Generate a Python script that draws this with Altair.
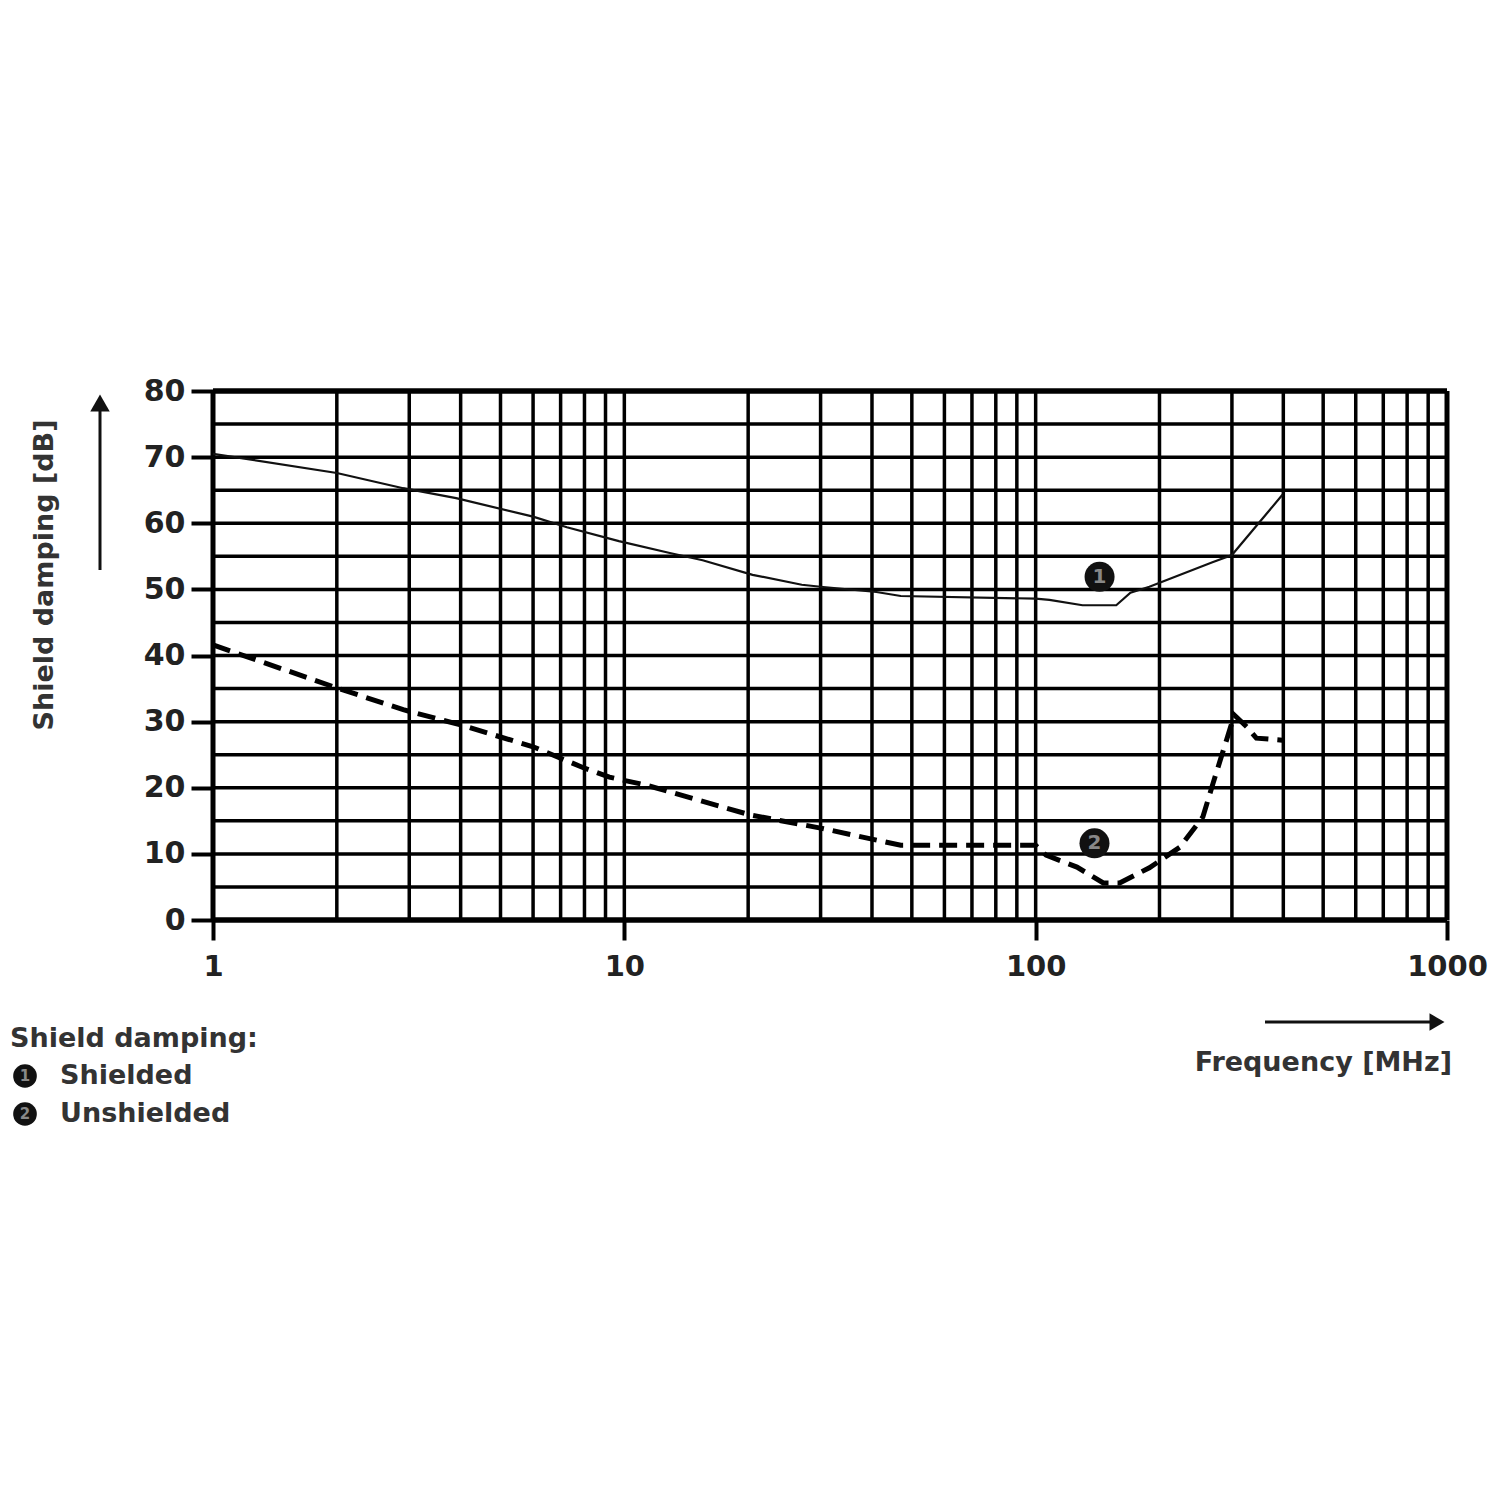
import altair as alt
import pandas as pd

# ---- data ----
freq_shielded = [1, 2, 2.9, 3.9, 6, 7.25, 9.7, 12.9, 15.5, 20.5, 27, 30, 41, 47, 100, 108, 130, 157, 170, 189, 269, 300, 398]
db_shielded = [70.5, 67.6, 65.3, 63.8, 61, 59.4, 57.3, 55.5, 54.4, 52.2, 50.7, 50.4, 49.6, 49.0, 48.6, 48.4, 47.6, 47.6, 49.5, 50.4, 54.1, 55.2, 64.3]

freq_unshielded = [1, 2, 2.9, 4, 6, 7.9, 9.2, 11.3, 20.2, 30, 47, 100, 106, 126, 146, 160, 189, 224, 255, 270, 291, 304, 326, 344, 398]
db_unshielded = [41.6, 35.1, 31.8, 29.5, 26.2, 23.1, 21.6, 20.4, 15.9, 13.9, 11.3, 11.3, 9.8, 8.0, 5.6, 5.6, 7.9, 11.0, 15.6, 20.7, 27.2, 31.0, 29.2, 27.5, 27.2]

x_grid = [m * d for d in (1, 10, 100) for m in range(1, 10)] + [1000]
y_grid = list(range(0, 85, 5))
x_ticks = [1, 10, 100, 1000]
y_ticks = list(range(0, 90, 10))

marker_labels = ["1", "2"]
marker_freq = [143, 139]
marker_db = [51.9, 11.6]

y_title = "Shield damping [dB]"
x_title = "Frequency [MHz]"
legend_title = "Shield damping:"
legend_items = ["Shielded", "Unshielded"]

FONT = "DejaVu Sans"
W, H = 1234, 529

xs = alt.Scale(type="log", domain=[1, 1000], nice=False)
ys = alt.Scale(domain=[0, 80], nice=False, zero=False)

df_s = pd.DataFrame({"f": freq_shielded, "db": db_shielded})
df_u = pd.DataFrame({"f": freq_unshielded, "db": db_unshielded})
df_xg = pd.DataFrame({"f": x_grid})
df_yg = pd.DataFrame({"db": y_grid})
df_m = pd.DataFrame({"f": marker_freq, "db": marker_db, "lab": marker_labels})
one = pd.DataFrame({"a": [0]})

x_axis = alt.Axis(values=x_ticks, title=None, grid=False, domain=False, tickSize=20, tickWidth=4,
                  tickColor="#000", labelFontSize=29, labelFont=FONT, labelFontWeight="bold",
                  labelColor="#222", labelPadding=12, format="d", labelFlush=False)
y_axis = alt.Axis(values=y_ticks, title=None, grid=False, domain=False, tickSize=22, tickWidth=4,
                  tickColor="#000", labelFontSize=30, labelFont=FONT, labelFontWeight="bold",
                  labelColor="#222", labelPadding=6, format="d")

vgrid = alt.Chart(df_xg).mark_rule(color="#000", strokeWidth=3.5).encode(
    x=alt.X("f:Q", scale=xs, axis=x_axis),
    y=alt.value(0), y2=alt.value(H))
hgrid = alt.Chart(df_yg).mark_rule(color="#000", strokeWidth=3.5).encode(
    y=alt.Y("db:Q", scale=ys, axis=y_axis),
    x=alt.value(0), x2=alt.value(W))

frame_h = alt.Chart(pd.DataFrame({"db": [0, 80]})).mark_rule(color="#000", strokeWidth=5.5).encode(
    y=alt.Y("db:Q", scale=ys), x=alt.value(0), x2=alt.value(W))
frame_v = alt.Chart(pd.DataFrame({"f": [1, 1000]})).mark_rule(color="#000", strokeWidth=5).encode(
    x=alt.X("f:Q", scale=xs), y=alt.value(0), y2=alt.value(H))

line_s = alt.Chart(df_s).mark_line(color="#111", strokeWidth=2.2).encode(
    x=alt.X("f:Q", scale=xs), y=alt.Y("db:Q", scale=ys), order=alt.Order("f:Q"))
line_u = alt.Chart(df_u).mark_line(color="#000", strokeWidth=5, strokeDash=[18, 9]).encode(
    x=alt.X("f:Q", scale=xs), y=alt.Y("db:Q", scale=ys), order=alt.Order("f:Q"))

m_circ = alt.Chart(df_m).mark_point(filled=True, shape="circle", size=900, color="#111", opacity=1).encode(
    x=alt.X("f:Q", scale=xs), y=alt.Y("db:Q", scale=ys))
m_txt = alt.Chart(df_m).mark_text(font=FONT, fontSize=20, fontWeight="bold", color="#888", baseline="middle").encode(
    x=alt.X("f:Q", scale=xs), y=alt.Y("db:Q", scale=ys), text="lab:N")

# axis arrows (page coords -> plot coords: left 213, top 391)
y_arrow_line = alt.Chart(one).mark_rule(color="#111", strokeWidth=3).encode(
    x=alt.value(100 - 213), y=alt.value(570 - 391), y2=alt.value(410 - 391))
y_arrow_head = alt.Chart(one).mark_point(shape="triangle-up", filled=True, size=380, color="#111", opacity=1).encode(
    x=alt.value(100 - 213), y=alt.value(403 - 391))
x_arrow_line = alt.Chart(one).mark_rule(color="#111", strokeWidth=3).encode(
    y=alt.value(1022 - 391), x=alt.value(1265 - 213), x2=alt.value(1430 - 213))
x_arrow_head = alt.Chart(one).mark_point(shape="triangle-right", filled=True, size=300, color="#111", opacity=1).encode(
    y=alt.value(1022 - 391), x=alt.value(1437 - 213))

y_title_t = alt.Chart(one).mark_text(text=y_title, font=FONT, fontSize=27, fontWeight="bold", color="#333",
                                     angle=270, align="center", baseline="middle").encode(
    x=alt.value(45 - 213), y=alt.value(575 - 391))
x_title_t = alt.Chart(one).mark_text(text=x_title, font=FONT, fontSize=27, fontWeight="bold", color="#333",
                                     align="right", baseline="middle").encode(
    x=alt.value(1452 - 213), y=alt.value(1063 - 391))

leg_title = alt.Chart(one).mark_text(text=legend_title, font=FONT, fontSize=27, fontWeight="bold", color="#333",
                                     align="left", baseline="middle").encode(
    x=alt.value(10 - 213), y=alt.value(1039 - 391))
leg_df = pd.DataFrame({"lab": marker_labels, "name": legend_items,
                       "py": [1076 - 391, 1114 - 391]})
leg_circ = alt.Chart(leg_df).mark_point(filled=True, shape="circle", size=560, color="#111", opacity=1).encode(
    x=alt.value(25 - 213), y=alt.Y("py:Q", scale=None))
leg_num = alt.Chart(leg_df).mark_text(font=FONT, fontSize=15, fontWeight="bold", color="#888", baseline="middle").encode(
    x=alt.value(25 - 213), y=alt.Y("py:Q", scale=None), text="lab:N")
leg_name = alt.Chart(leg_df).mark_text(font=FONT, fontSize=27, fontWeight="bold", color="#333",
                                       align="left", baseline="middle").encode(
    x=alt.value(60 - 213), y=alt.Y("py:Q", scale=None), text="name:N")

chart = alt.layer(
    vgrid, hgrid, frame_h, frame_v, line_s, line_u, m_circ, m_txt,
    y_arrow_line, y_arrow_head, x_arrow_line, x_arrow_head,
    y_title_t, x_title_t, leg_title, leg_circ, leg_num, leg_name
).properties(
    width=W, height=H,
    autosize=alt.AutoSizeParams(type="none"),
    padding={"left": 205, "top": 383, "right": 45, "bottom": 260},
    background="white",
).configure_view(stroke=None)

chart.save("out.html", embed_options={"renderer": "svg", "actions": False})
